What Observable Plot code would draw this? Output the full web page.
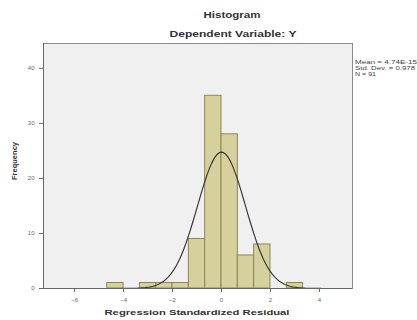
<!DOCTYPE html>
<html><head><meta charset="utf-8">
<script src="https://cdn.jsdelivr.net/npm/d3@7"></script>
<script src="https://cdn.jsdelivr.net/npm/@observablehq/plot@0.6"></script>
<style>
body{margin:0;background:#fff;font-family:"Liberation Sans",Arial,sans-serif;}
</style></head>
<body><div id="chart"></div>
<script>
const binStarts = [-4.667, -3.333, -2.667, -2.0, -1.333, -0.667, 0.0, 0.667, 1.333, 2.667];
const binWidth = 0.667;
const counts = [1, 1, 1, 1, 9, 35, 28, 6, 8, 1];
const xTicks = [-6, -4, -2, 0, 2, 4];
const yTicks = [0, 10, 20, 30, 40];
const meanVal = 0, sdVal = 0.978, nVal = 91;
const statsText = ["Mean = 4.74E-15", "Std. Dev. = 0.978", "N = 91"];

const bins = binStarts.map((s, i) => ({x1: s, x2: s + binWidth, y: counts[i]}));
const curveX = d3.range(-7.2, 5.3, 0.05);
const curve = curveX.map(x => ({x, y: nVal * binWidth * Math.exp(-0.5 * ((x - meanVal) / sdVal) ** 2) / (sdVal * Math.sqrt(2 * Math.PI))}));

const W = 417, H = 320;
const chart = Plot.plot({
  width: W, height: H,
  marginLeft: 43, marginRight: 65, marginTop: 43, marginBottom: 32,
  style: {fontFamily: "Liberation Sans, Arial, sans-serif", fontSize: "6px", color: "#555", background: "#fff"},
  x: {domain: [-7.27, 5.35], ticks: xTicks, tickSize: 4, label: null, tickFormat: d => String(d)},
  y: {domain: [0, 44.5], ticks: yTicks, tickSize: 4, label: null},
  marks: [
    Plot.frame({fill: "#f0f0f0", stroke: "#8a8a8a"}),
    Plot.rectY(bins, {x1: "x1", x2: "x2", y: "y", fill: "#d6d09c", stroke: "#8c8656", strokeWidth: 1}),
    Plot.line(curve, {x: "x", y: "y", stroke: "#3a3a3a", strokeWidth: 1.2, clip: true}),
    Plot.axisX({ticks: xTicks, tickSize: 4, stroke: "#666", fill: "#666", fontSize: 6, label: null}),
    Plot.axisY({ticks: yTicks, tickSize: 4, stroke: "#666", fill: "#666", fontSize: 6, label: null}),
    Plot.ruleX([-7.27], {stroke: "#666"}),
    Plot.ruleY([0], {stroke: "#666"})
  ]
});
document.getElementById("chart").appendChild(chart);

const svg = d3.select(chart);
const font = "Liberation Sans, Arial, sans-serif";
function addText(x, y, txt, size, len, anchor, bold, fill) {
  const t = svg.append("text").attr("x", x).attr("y", y).attr("text-anchor", anchor)
    .attr("font-family", font).attr("font-size", size).attr("fill", fill || "#333").text(txt);
  if (bold) t.attr("font-weight", "bold");
  if (len) t.attr("textLength", len).attr("lengthAdjust", "spacingAndGlyphs");
  return t;
}
addText(232, 18, "Histogram", 8.5, 57, "middle", true);
addText(233, 37, "Dependent Variable: Y", 8.5, 127, "middle", true);
addText(197, 315, "Regression Standardized Residual", 8, 185, "middle", true);
svg.append("text").attr("transform", "translate(17,161) rotate(-90)").attr("text-anchor", "middle")
  .attr("font-family", font).attr("font-size", 7).attr("font-weight", "bold").attr("fill", "#333")
  .attr("textLength", 38).attr("lengthAdjust", "spacingAndGlyphs").text("Frequency");
const statLens = [62, 60, 21];
statsText.forEach((t, i) => addText(355, 64 + i * 6, t, 5.5, statLens[i], "start", false, "#444"));
</script></body></html>
